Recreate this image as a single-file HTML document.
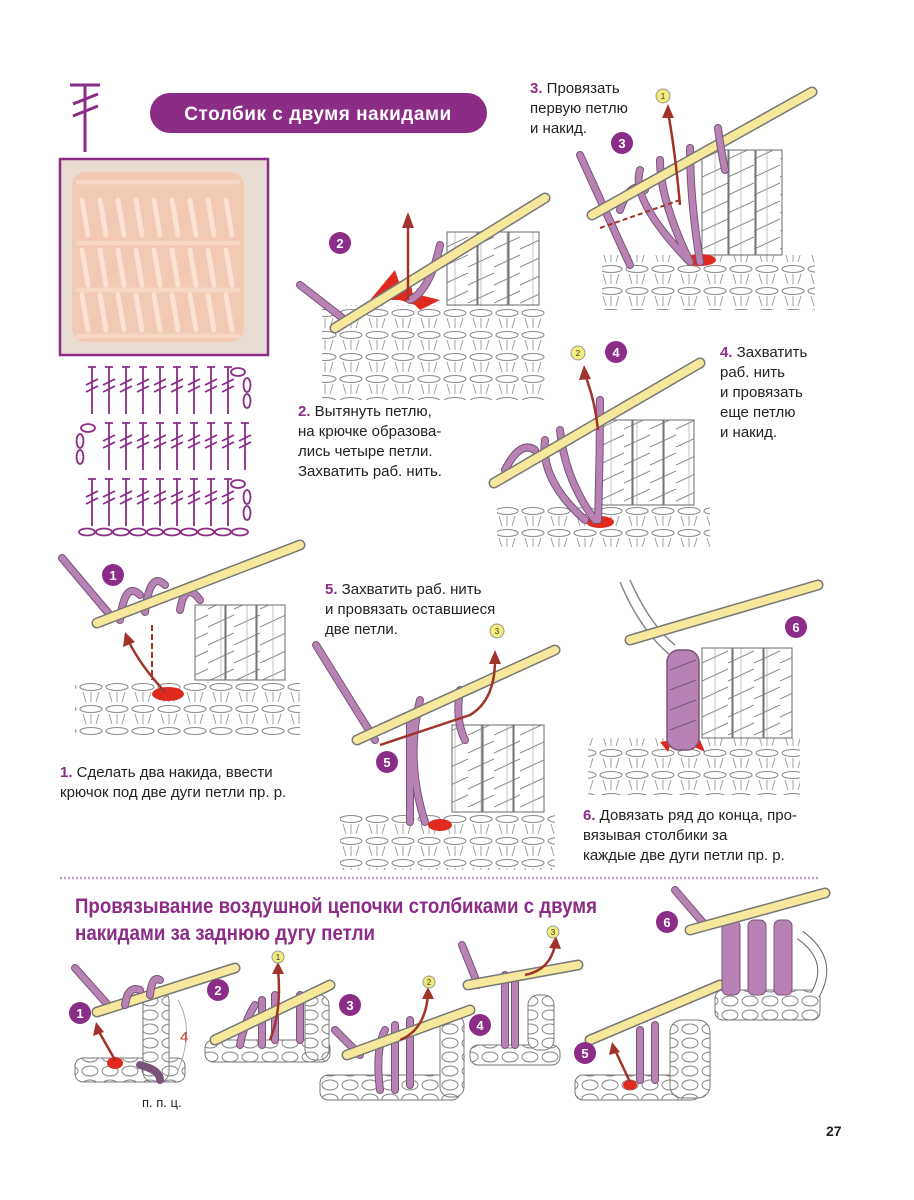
<!DOCTYPE html>
<html><head><meta charset="utf-8"><style>
html,body{margin:0;padding:0;background:#fff}
svg{display:block}
.t{font-family:"Liberation Sans",sans-serif;font-size:15px;fill:#222}
.n{fill:#8b2c86;font-weight:bold}
.cn{font-family:"Liberation Sans",sans-serif;font-size:13px;font-weight:bold;fill:#fff;text-anchor:middle}
.yn{font-family:"Liberation Sans",sans-serif;font-size:8px;fill:#333;text-anchor:middle}
.h{font-family:"Liberation Sans Narrow","Liberation Sans",sans-serif;font-weight:bold;font-size:21px;fill:#8b2c86}
.hook1{stroke:#777;stroke-width:11;stroke-linecap:round;fill:none}
.hook2{stroke:#f6e89c;stroke-width:8;stroke-linecap:round;fill:none}
.y1{stroke:#7a5478;stroke-width:8;stroke-linecap:round;fill:none}
.y2{stroke:#b882b5;stroke-width:6;stroke-linecap:round;fill:none}
.ar{stroke:#a0342a;stroke-width:2.5;fill:none}
.col{fill:url(#tw);stroke:#777;stroke-width:1.1}
.base{fill:url(#bs)}
.ch{fill:url(#chp);stroke:#777;stroke-width:1}
</style></head><body>
<svg width="914" height="1200" viewBox="0 0 914 1200" xmlns="http://www.w3.org/2000/svg">
<defs>
<pattern id="tw" width="26" height="18" patternUnits="userSpaceOnUse">
<rect width="26" height="18" fill="#fff"/>
<path d="M0 15 L26 3" stroke="#888" stroke-width="1"/>
<path d="M13 0 V18" stroke="#aaa" stroke-width="0.7"/>
</pattern>
<pattern id="bs" width="26" height="22" patternUnits="userSpaceOnUse">
<rect width="26" height="22" fill="#fff"/>
<ellipse cx="13" cy="5" rx="11" ry="3.5" fill="none" stroke="#888" stroke-width="1"/>
<path d="M5 10 L8 20 M13 10 V20 M21 10 L18 20" stroke="#999" stroke-width="0.9"/>
</pattern>
<pattern id="chp" width="20" height="14" patternUnits="userSpaceOnUse">
<rect width="20" height="14" fill="#fff"/>
<ellipse cx="10" cy="7" rx="8" ry="5" fill="none" stroke="#888" stroke-width="1"/>
</pattern>
</defs>

<g stroke="#8b2c86" stroke-width="3" fill="none">
<path d="M70 85 H100 M85 85 V152 M73 104 L98 94 M73 116 L98 106"/>
</g>
<rect x="150" y="93" width="337" height="40" rx="20" fill="#8b2c86"/>
<text x="318" y="120" text-anchor="middle" font-family="Liberation Sans,sans-serif" font-size="19" font-weight="bold" fill="#fff" letter-spacing="0.5">Столбик с двумя накидами</text>

<rect x="60" y="159" width="208" height="196" fill="#e9ddd3" stroke="#8b2c86" stroke-width="2.5"/>
<rect x="72" y="172" width="172" height="170" rx="14" fill="#f2c9b2"/>
<g stroke="#fae2d4" stroke-width="5" stroke-linecap="round">
<path d="M82 200 L88 235 M100 200 L106 235 M118 200 L124 235 M136 200 L142 235 M154 200 L160 235 M172 200 L178 235 M190 200 L196 235 M208 200 L214 235 M226 200 L232 235"/>
<path d="M82 250 L88 285 M100 250 L106 285 M118 250 L124 285 M136 250 L142 285 M154 250 L160 285 M172 250 L178 285 M190 250 L196 285 M208 250 L214 285 M226 250 L232 285"/>
<path d="M82 295 L88 330 M100 295 L106 330 M118 295 L124 330 M136 295 L142 330 M154 295 L160 330 M172 295 L178 330 M190 295 L196 330 M208 295 L214 330 M226 295 L232 330"/>
<path d="M78 182 H238 M78 243 H238 M78 290 H238 M78 336 H238" stroke="#f7d8c6"/>
</g>

<g stroke="#8b2c86" stroke-width="1.8" fill="none">
<g id="crow">
<path d="M88 367 H96 M92 367 V414 M86 385 L98 379 M86 392 L98 386"/>
<path d="M105 367 H113 M109 367 V414 M103 385 L115 379 M103 392 L115 386"/>
<path d="M122 367 H130 M126 367 V414 M120 385 L132 379 M120 392 L132 386"/>
<path d="M139 367 H147 M143 367 V414 M137 385 L149 379 M137 392 L149 386"/>
<path d="M156 367 H164 M160 367 V414 M154 385 L166 379 M154 392 L166 386"/>
<path d="M173 367 H181 M177 367 V414 M171 385 L183 379 M171 392 L183 386"/>
<path d="M190 367 H198 M194 367 V414 M188 385 L200 379 M188 392 L200 386"/>
<path d="M207 367 H215 M211 367 V414 M205 385 L217 379 M205 392 L217 386"/>
<path d="M224 367 H232 M228 367 V414 M222 385 L234 379 M222 392 L234 386"/>
</g>
<use href="#crow" x="17" y="56"/>
<use href="#crow" y="112"/>
<ellipse cx="238" cy="372" rx="7" ry="4"/><ellipse cx="247" cy="385" rx="3.5" ry="7"/><ellipse cx="247" cy="401" rx="3.5" ry="7"/>
<ellipse cx="88" cy="428" rx="7" ry="4"/><ellipse cx="80" cy="441" rx="3.5" ry="7"/><ellipse cx="80" cy="457" rx="3.5" ry="7"/>
<ellipse cx="238" cy="484" rx="7" ry="4"/><ellipse cx="247" cy="497" rx="3.5" ry="7"/><ellipse cx="247" cy="513" rx="3.5" ry="7"/>
<ellipse cx="87" cy="532" rx="8" ry="3.5"/><ellipse cx="104" cy="532" rx="8" ry="3.5"/><ellipse cx="121" cy="532" rx="8" ry="3.5"/><ellipse cx="138" cy="532" rx="8" ry="3.5"/><ellipse cx="155" cy="532" rx="8" ry="3.5"/><ellipse cx="172" cy="532" rx="8" ry="3.5"/><ellipse cx="189" cy="532" rx="8" ry="3.5"/><ellipse cx="206" cy="532" rx="8" ry="3.5"/><ellipse cx="223" cy="532" rx="8" ry="3.5"/><ellipse cx="240" cy="532" rx="8" ry="3.5"/>
</g>

<!-- ILL 3 -->
<rect class="base" x="602" y="255" width="213" height="55"/>
<rect class="col" x="702" y="150" width="26" height="105"/><rect class="col" x="729" y="150" width="26" height="105"/><rect class="col" x="756" y="150" width="26" height="105"/>
<ellipse cx="700" cy="260" rx="16" ry="6" fill="#e02a20"/>
<path class="y1" d="M580 155 L630 265 M640 170 Q630 200 690 262 M660 160 Q660 200 690 262 M690 148 Q690 200 700 262 M620 210 Q630 180 645 190"/>
<path class="y2" d="M580 155 L630 265 M640 170 Q630 200 690 262 M660 160 Q660 200 690 262 M690 148 Q690 200 700 262 M620 210 Q630 180 645 190"/>
<path class="hook1" d="M592 215 L812 92"/><path class="hook2" d="M592 215 L812 92"/>
<path class="y1" d="M718 128 Q720 145 725 170"/><path class="y2" d="M718 128 Q720 145 725 170"/>
<path class="ar" d="M680 205 Q675 150 668 112"/><path d="M662 118 L668 104 L674 118Z" fill="#a0342a"/>
<path d="M600 228 L680 200" stroke="#a0342a" stroke-width="2" stroke-dasharray="5 3"/>
<circle cx="663" cy="96" r="7" fill="#f2ec7a" stroke="#999"/><text class="yn" x="663" y="99">1</text>
<circle cx="622" cy="143" r="11" fill="#8b2c86"/><text class="cn" x="622" y="148">3</text>
<text class="t" x="530" y="93"><tspan class="n">3.</tspan> Провязать</text>
<text class="t" x="530" y="113">первую петлю</text>
<text class="t" x="530" y="133">и накид.</text>

<!-- ILL 2 -->
<rect class="base" x="322" y="305" width="223" height="95"/>
<rect class="col" x="447" y="232" width="30" height="73"/><rect class="col" x="478" y="232" width="30" height="73"/><rect class="col" x="509" y="232" width="30" height="73"/>
<path d="M370 300 L395 270 L405 300Z M400 290 L440 300 L420 310Z M385 295 L410 280 L415 305Z" fill="#e02a20"/>
<path class="y1" d="M300 285 L345 320 M440 245 Q430 290 410 300"/><path class="y2" d="M300 285 L345 320 M440 245 Q430 290 410 300"/>
<path class="hook1" d="M335 328 L545 198"/><path class="hook2" d="M335 328 L545 198"/>
<path class="ar" d="M408 300 V225"/><path d="M402 228 L408 212 L414 228Z" fill="#a0342a"/>
<circle cx="340" cy="243" r="11" fill="#8b2c86"/><text class="cn" x="340" y="248">2</text>
<text class="t" x="298" y="416"><tspan class="n">2.</tspan> Вытянуть петлю,</text>
<text class="t" x="298" y="436">на крючке образова-</text>
<text class="t" x="298" y="456">лись четыре петли.</text>
<text class="t" x="298" y="476">Захватить раб. нить.</text>

<!-- ILL 4 -->
<rect class="base" x="497" y="505" width="213" height="42"/>
<rect class="col" x="602" y="420" width="30" height="85"/><rect class="col" x="633" y="420" width="30" height="85"/><rect class="col" x="664" y="420" width="30" height="85"/>
<ellipse cx="600" cy="522" rx="14" ry="6" fill="#e02a20"/>
<path class="y1" d="M545 440 Q540 480 585 520 M560 430 Q565 480 595 520 M600 400 Q600 460 598 520 M505 470 Q520 440 535 450"/><path class="y2" d="M545 440 Q540 480 585 520 M560 430 Q565 480 595 520 M600 400 Q600 460 598 520 M505 470 Q520 440 535 450"/>
<path class="hook1" d="M494 483 L700 363"/><path class="hook2" d="M494 483 L700 363"/>
<path class="ar" d="M598 430 Q595 400 585 375"/><path d="M579 380 L584 365 L591 379Z" fill="#a0342a"/>
<circle cx="578" cy="353" r="7" fill="#f2ec7a" stroke="#999"/><text class="yn" x="578" y="356">2</text>
<circle cx="616" cy="352" r="11" fill="#8b2c86"/><text class="cn" x="616" y="357">4</text>
<text class="t" x="720" y="357"><tspan class="n">4.</tspan> Захватить</text>
<text class="t" x="720" y="377">раб. нить</text>
<text class="t" x="720" y="397">и провязать</text>
<text class="t" x="720" y="417">еще петлю</text>
<text class="t" x="720" y="437">и накид.</text>

<!-- ILL 1 -->
<rect class="base" x="75" y="680" width="225" height="55"/>
<rect class="col" x="195" y="605" width="30" height="75"/><rect class="col" x="226" y="605" width="30" height="75"/><rect class="col" x="257" y="605" width="28" height="75"/>
<ellipse cx="168" cy="694" rx="16" ry="7" fill="#e02a20"/>
<path class="y1" d="M62 558 L110 615 M120 620 Q125 580 140 595 M145 612 Q150 570 165 585 M180 610 Q185 580 200 600"/><path class="y2" d="M62 558 L110 615 M120 620 Q125 580 140 595 M145 612 Q150 570 165 585 M180 610 Q185 580 200 600"/>
<path class="hook1" d="M97 623 L300 545"/><path class="hook2" d="M97 623 L300 545"/>
<path class="ar" d="M165 692 Q140 665 128 640"/><path d="M123 647 L125 632 L135 642Z" fill="#a0342a"/>
<path d="M152 625 V680" stroke="#a0342a" stroke-width="2" stroke-dasharray="6 3"/>
<circle cx="113" cy="575" r="11" fill="#8b2c86"/><text class="cn" x="113" y="580">1</text>
<text class="t" x="60" y="777"><tspan class="n">1.</tspan> Сделать два накида, ввести</text>
<text class="t" x="60" y="797">крючок под две дуги петли пр. р.</text>

<!-- ILL 5 -->
<rect class="base" x="340" y="812" width="215" height="58"/>
<rect class="col" x="452" y="725" width="30" height="87"/><rect class="col" x="483" y="725" width="30" height="87"/><rect class="col" x="514" y="725" width="30" height="87"/>
<ellipse cx="440" cy="825" rx="12" ry="6" fill="#e02a20"/>
<path class="y1" d="M316 645 L375 740 M420 700 Q405 760 425 822 M410 720 V822 M460 690 Q455 720 465 740"/><path class="y2" d="M316 645 L375 740 M420 700 Q405 760 425 822 M410 720 V822 M460 690 Q455 720 465 740"/>
<path class="hook1" d="M357 740 L555 650"/><path class="hook2" d="M357 740 L555 650"/>
<path class="ar" d="M380 745 L470 715 Q495 700 495 660"/><path d="M489 664 L495 650 L501 664Z" fill="#a0342a"/>
<circle cx="497" cy="631" r="7" fill="#f2ec7a" stroke="#999"/><text class="yn" x="497" y="634">3</text>
<circle cx="387" cy="762" r="11" fill="#8b2c86"/><text class="cn" x="387" y="767">5</text>
<text class="t" x="325" y="594"><tspan class="n">5.</tspan> Захватить раб. нить</text>
<text class="t" x="325" y="614">и провязать оставшиеся</text>
<text class="t" x="325" y="634">две петли.</text>

<!-- ILL 6 -->
<rect class="base" x="588" y="738" width="212" height="57"/>
<rect class="col" x="702" y="648" width="30" height="90"/><rect class="col" x="733" y="648" width="30" height="90"/><rect class="col" x="764" y="648" width="28" height="90"/>
<path d="M690 745 L700 740 L705 752Z M660 742 L672 740 L668 752Z" fill="#e02a20"/>
<rect x="667" y="650" width="32" height="100" rx="12" fill="#b882b5" stroke="#7a5478" stroke-width="1.5"/>
<path d="M670 670 L696 660 M670 690 L696 680 M670 710 L696 700 M670 730 L696 720" stroke="#7a5478" stroke-width="1.2"/>
<path d="M620 582 Q640 630 670 655 M630 580 Q650 625 675 645" stroke="#888" stroke-width="1.5" fill="none"/>
<path class="hook1" d="M630 640 L818 585"/><path class="hook2" d="M630 640 L818 585"/>
<circle cx="796" cy="627" r="11" fill="#8b2c86"/><text class="cn" x="796" y="632">6</text>
<text class="t" x="583" y="820"><tspan class="n">6.</tspan> Довязать ряд до конца, про-</text>
<text class="t" x="583" y="840">вязывая столбики за</text>
<text class="t" x="583" y="860">каждые две дуги петли пр. р.</text>

<path d="M60 878 H820" stroke="#c99bc5" stroke-width="2.5" stroke-dasharray="2 2"/>

<text class="h" x="75" y="913" textLength="522" lengthAdjust="spacingAndGlyphs">Провязывание воздушной цепочки столбиками с двумя</text>
<text class="h" x="75" y="940" textLength="300" lengthAdjust="spacingAndGlyphs">накидами за заднюю дугу петли</text>

<!-- b1 -->
<rect class="ch" x="75" y="1058" width="110" height="24" rx="8"/>
<rect class="ch" x="143" y="990" width="26" height="92" rx="10"/>
<path class="y1" d="M75 968 L108 1005 M140 1065 Q160 1070 160 1080"/><path class="y2" d="M75 968 L108 1005"/>
<path class="hook1" d="M97 1012 L235 968"/><path class="hook2" d="M97 1012 L235 968"/>
<path class="y1" d="M125 1005 Q128 985 140 990 M150 995 Q152 975 160 980"/><path class="y2" d="M125 1005 Q128 985 140 990 M150 995 Q152 975 160 980"/>
<ellipse cx="115" cy="1063" rx="8" ry="6" fill="#e02a20"/>
<path class="ar" d="M115 1060 L98 1030"/><path d="M93 1036 L96 1022 L104 1032Z" fill="#a0342a"/>
<path d="M178 1000 Q195 1030 178 1070" stroke="#aaa" fill="none"/>
<text x="180" y="1042" font-family="Liberation Sans,sans-serif" font-size="15" fill="#c0392b">4</text>
<circle cx="80" cy="1013" r="11" fill="#8b2c86"/><text class="cn" x="80" y="1018">1</text>
<text x="142" y="1107" font-family="Liberation Sans,sans-serif" font-size="13" fill="#222">п. п. ц.</text>

<!-- b2 -->
<rect class="ch" x="205" y="1040" width="125" height="22" rx="8"/>
<rect class="ch" x="305" y="995" width="24" height="65" rx="10"/>
<path class="y1" d="M240 1045 Q245 1020 255 1005 M262 1045 V1000 M275 1040 V995 M300 1040 V995"/><path class="y2" d="M240 1045 Q245 1020 255 1005 M262 1045 V1000 M275 1040 V995 M300 1040 V995"/>
<path class="hook1" d="M215 1040 L330 985"/><path class="hook2" d="M215 1040 L330 985"/>
<path class="ar" d="M270 1040 Q282 1010 278 970"/><path d="M272 974 L278 962 L284 974Z" fill="#a0342a"/>
<circle cx="278" cy="957" r="6" fill="#f2ec7a" stroke="#999"/><text class="yn" x="278" y="960">1</text>
<circle cx="218" cy="990" r="11" fill="#8b2c86"/><text class="cn" x="218" y="995">2</text>

<!-- b3 -->
<rect class="ch" x="320" y="1075" width="140" height="25" rx="8"/>
<rect class="ch" x="440" y="1015" width="24" height="82" rx="10"/>
<path class="y1" d="M335 1030 L360 1055 M380 1090 Q375 1050 385 1030 M395 1090 V1025 M410 1085 V1020"/><path class="y2" d="M335 1030 L360 1055 M380 1090 Q375 1050 385 1030 M395 1090 V1025 M410 1085 V1020"/>
<path class="hook1" d="M347 1055 L470 1010"/><path class="hook2" d="M347 1055 L470 1010"/>
<path class="ar" d="M400 1040 Q425 1030 428 995"/><path d="M422 999 L428 987 L434 999Z" fill="#a0342a"/>
<circle cx="429" cy="982" r="6" fill="#f2ec7a" stroke="#999"/><text class="yn" x="429" y="985">2</text>
<circle cx="350" cy="1005" r="11" fill="#8b2c86"/><text class="cn" x="350" y="1010">3</text>

<!-- b4 -->
<rect class="ch" x="470" y="1045" width="90" height="20" rx="8"/>
<rect class="ch" x="528" y="995" width="26" height="55" rx="10"/>
<path class="y1" d="M462 945 L478 985 M505 1045 V975 M515 1045 V980"/><path class="y2" d="M462 945 L478 985 M505 1045 V975 M515 1045 V980"/>
<path class="hook1" d="M468 985 L578 965"/><path class="hook2" d="M468 985 L578 965"/>
<path class="ar" d="M525 975 Q550 970 555 945"/><path d="M549 948 L556 936 L561 949Z" fill="#a0342a"/>
<circle cx="553" cy="932" r="6" fill="#f2ec7a" stroke="#999"/><text class="yn" x="553" y="935">3</text>
<circle cx="480" cy="1025" r="11" fill="#8b2c86"/><text class="cn" x="480" y="1030">4</text>

<!-- b5 -->
<rect class="ch" x="575" y="1075" width="125" height="25" rx="8"/>
<rect class="ch" x="670" y="1020" width="40" height="78" rx="12"/>
<path class="y1" d="M640 1080 V1030 M655 1080 V1025"/><path class="y2" d="M640 1080 V1030 M655 1080 V1025"/>
<path class="hook1" d="M590 1040 L720 985"/><path class="hook2" d="M590 1040 L720 985"/>
<ellipse cx="630" cy="1085" rx="7" ry="5" fill="#e02a20"/>
<path class="ar" d="M630 1082 L615 1050"/><path d="M609 1055 L612 1042 L620 1052Z" fill="#a0342a"/>
<circle cx="585" cy="1053" r="11" fill="#8b2c86"/><text class="cn" x="585" y="1058">5</text>

<!-- b6 -->
<rect class="ch" x="715" y="990" width="105" height="30" rx="8"/>
<path d="M800 935 Q835 960 815 995" stroke="#666" stroke-width="10" fill="none"/><path d="M800 935 Q835 960 815 995" stroke="#fff" stroke-width="8" fill="none"/>
<rect x="722" y="920" width="18" height="75" rx="6" fill="#b882b5" stroke="#7a5478"/>
<rect x="748" y="920" width="18" height="75" rx="6" fill="#b882b5" stroke="#7a5478"/>
<rect x="774" y="920" width="18" height="75" rx="6" fill="#b882b5" stroke="#7a5478"/>
<path class="y1" d="M675 890 L705 925"/><path class="y2" d="M675 890 L705 925"/>
<path class="hook1" d="M690 930 L825 893"/><path class="hook2" d="M690 930 L825 893"/>
<circle cx="667" cy="922" r="11" fill="#8b2c86"/><text class="cn" x="667" y="927">6</text>

<text x="826" y="1136" font-family="Liberation Sans,sans-serif" font-size="14" font-weight="bold" fill="#222">27</text>
</svg>
</body></html>
